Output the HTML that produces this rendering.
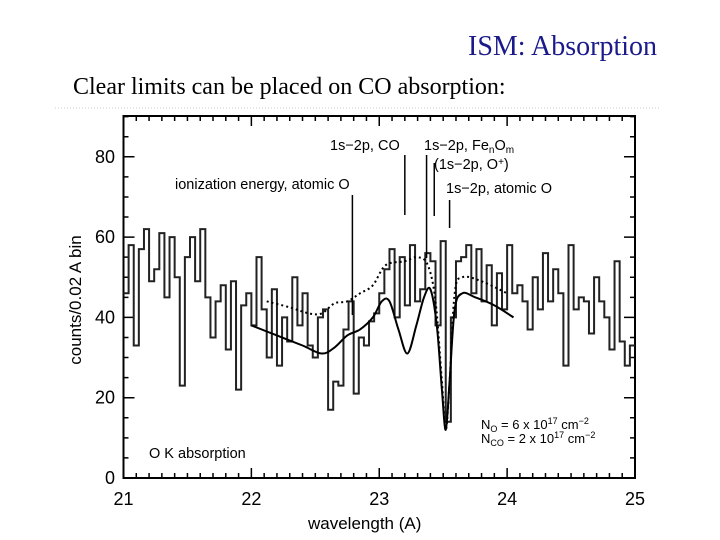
<!DOCTYPE html>
<html><head><meta charset="utf-8"><style>
body{margin:0;background:#fff;width:720px;height:540px;overflow:hidden;position:relative}
.t{position:absolute;font-family:"Liberation Serif",serif;color:#000;white-space:nowrap}
</style></head><body>
<div class="t" style="left:468px;top:31px;font-size:28px;color:#1a1a8a">ISM: Absorption</div>
<div class="t" style="left:73px;top:74px;font-size:24px">Clear limits can be placed on CO absorption:</div>
<svg id="c" width="720" height="540" style="position:absolute;left:0;top:0" font-family="Liberation Sans, sans-serif"></svg>
<script>
const binStart=21.0, binWidth=0.04;
const counts=[46,58,33,57,62,49,52,61,45,60,50,23,55,
60,49,62,45,35,44,48,32,49,22,43,46,
38,55,42,30,47,28,40,34,50,38,46,33,30,
40,42,17,24,23,37,44,21,35,33,39,41,
46,52,57,40,55,43,58,44,47,56,54,38,59,
14,40,54,55,58,46,57,44,53,38,51,42,
58,46,48,44,37,50,42,56,44,52,46,28,58,
42,45,44,36,50,44,40,32,54,34,28,33];
const modelSolidX=[22.0,22.2,22.4,22.55,22.65,22.75,22.85,22.95,23.02,23.08,23.15,23.22,23.29,23.35,23.4,23.45,23.49,23.52,23.55,23.59,23.65,23.75,23.9,24.05];
const modelSolidY=[38,35.5,33,31,32.5,35.5,37,40,44,44,37,31,38,45,47,38,22,12,24,42,46,45,43,40];
const modelDotX=[22.12,22.3,22.45,22.55,22.65,22.75,22.85,22.95,23.05,23.2,23.3,23.38,23.44,23.49,23.52,23.55,23.59,23.65,23.8,24.0];
const modelDotY=[44,42.5,41,41,43.5,44,46,48,53,54,55,53,44,24,12,24,46,50,49,46];
const xTicks=[21,22,23,24,25];
const yTicks=[0,20,40,60,80];
const X0=123.5,X1=635,Y0=478,Y1=116;
const xs=v=>X0+(v-21)*(X1-X0)/4;
const ys=v=>Y0-v*4.015;
const svg=document.getElementById('c');const NS='http://www.w3.org/2000/svg';
function mk(t,a){const e=document.createElementNS(NS,t);for(const k in a)e.setAttribute(k,a[k]);svg.appendChild(e);return e;}
let e=mk('line',{x1:55,y1:108,x2:660,y2:108,stroke:'#ccc','stroke-dasharray':'1 2'});


e=mk('rect',{x:X0,y:Y1,width:X1-X0,height:Y0-Y1,fill:'none',stroke:'#000','stroke-width':2});


let tk='';
for(let i=0;i<=40;i++){const v=21+i*0.1,x=xs(v),L=(i%10==0)?10:5;tk+=`M${x} ${Y0}v${-L}M${x} ${Y1}v${L}`;}
for(let v=0;v<=90;v+=5){const y=ys(v),L=(v%20==0)?11:5;tk+=`M${X0} ${y}h${L}M${X1} ${y}h${-L}`;}
e=mk('path',{d:tk,stroke:'#000','stroke-width':1.5,fill:'none'});


xTicks.forEach(v=>{const t=mk('text',{x:xs(v),y:505,'font-size':18,'text-anchor':'middle'});t.textContent=v;

});
yTicks.forEach(v=>{const t=mk('text',{x:115,y:ys(v)+6,'font-size':18,'text-anchor':'end'});t.textContent=v;

});
let d='';counts.forEach((c,i)=>{const xa=xs(binStart+i*binWidth),xb=xs(binStart+(i+1)*binWidth),y=ys(c);d+=(i==0?`M${xa} ${y}`:`V${y}`)+`H${xb}`;});
e=mk('path',{d:d,stroke:'#222','stroke-width':2,fill:'none'});


function line(X,Y,dash,name){
const P=X.map((x,i)=>[xs(x),ys(Y[i])]);
let p=`M${P[0][0]} ${P[0][1]}`;
for(let i=0;i<P.length-1;i++){const a=P[Math.max(0,i-1)],b=P[i],c=P[i+1],dd=P[Math.min(P.length-1,i+2)];
p+=`C${b[0]+(c[0]-a[0])/6} ${b[1]+(c[1]-a[1])/6} ${c[0]-(dd[0]-b[0])/6} ${c[1]-(dd[1]-b[1])/6} ${c[0]} ${c[1]}`;}
const el=mk('path',{d:p,stroke:'#000','stroke-width':2,fill:'none','stroke-dasharray':dash});

}
line(modelDotX,modelDotY,'2 3','model-dotted');
line(modelSolidX,modelSolidY,'none','model-solid');
const marks=[[22.79,195,315],[23.2,155,215],[23.37,155,258],[23.43,163,216],[23.55,200,228]];
marks.forEach(m=>{const el=mk('line',{x1:xs(m[0]),x2:xs(m[0]),y1:m[1],y2:m[2],stroke:'#000','stroke-width':1.5});

});
function lbl(x,y,s,html,name){const t=mk('text',{x:x,y:y,'font-size':s});t.innerHTML=html;

}
lbl(175,189,14.5,'ionization energy, atomic O','label-ionization');
lbl(330,150,14.5,'1s−2p, CO','label-co');
lbl(424,150,14.5,'1s−2p, Fe<tspan font-size="10" dy="3">n</tspan><tspan dy="-3">O</tspan><tspan font-size="10" dy="3">m</tspan>','label-feo');
lbl(434,169,14.5,'(1s−2p, O<tspan font-size="10" dy="-4">+</tspan><tspan dy="4">)</tspan>','label-oplus');
lbl(446,193,14.5,'1s−2p, atomic O','label-atomic-o');
lbl(149,458,14.5,'O K absorption','label-ok');
lbl(481,429,13,'N<tspan font-size="9" dy="3">O</tspan><tspan dy="-3"> = 6 x 10</tspan><tspan font-size="9" dy="-5">17</tspan><tspan dy="5"> cm</tspan><tspan font-size="9" dy="-5">−2</tspan>','label-no');
lbl(481,443,13,'N<tspan font-size="9" dy="3">CO</tspan><tspan dy="-3"> = 2 x 10</tspan><tspan font-size="9" dy="-5">17</tspan><tspan dy="5"> cm</tspan><tspan font-size="9" dy="-5">−2</tspan>','label-nco');
lbl(308,529,17,'wavelength (A)','x-axis-title');
const yt=mk('text',{x:0,y:0,'font-size':17,'text-anchor':'middle',transform:'translate(81,300) rotate(-90)'});
yt.textContent='counts/0.02 A bin';


</script>
</body></html>
